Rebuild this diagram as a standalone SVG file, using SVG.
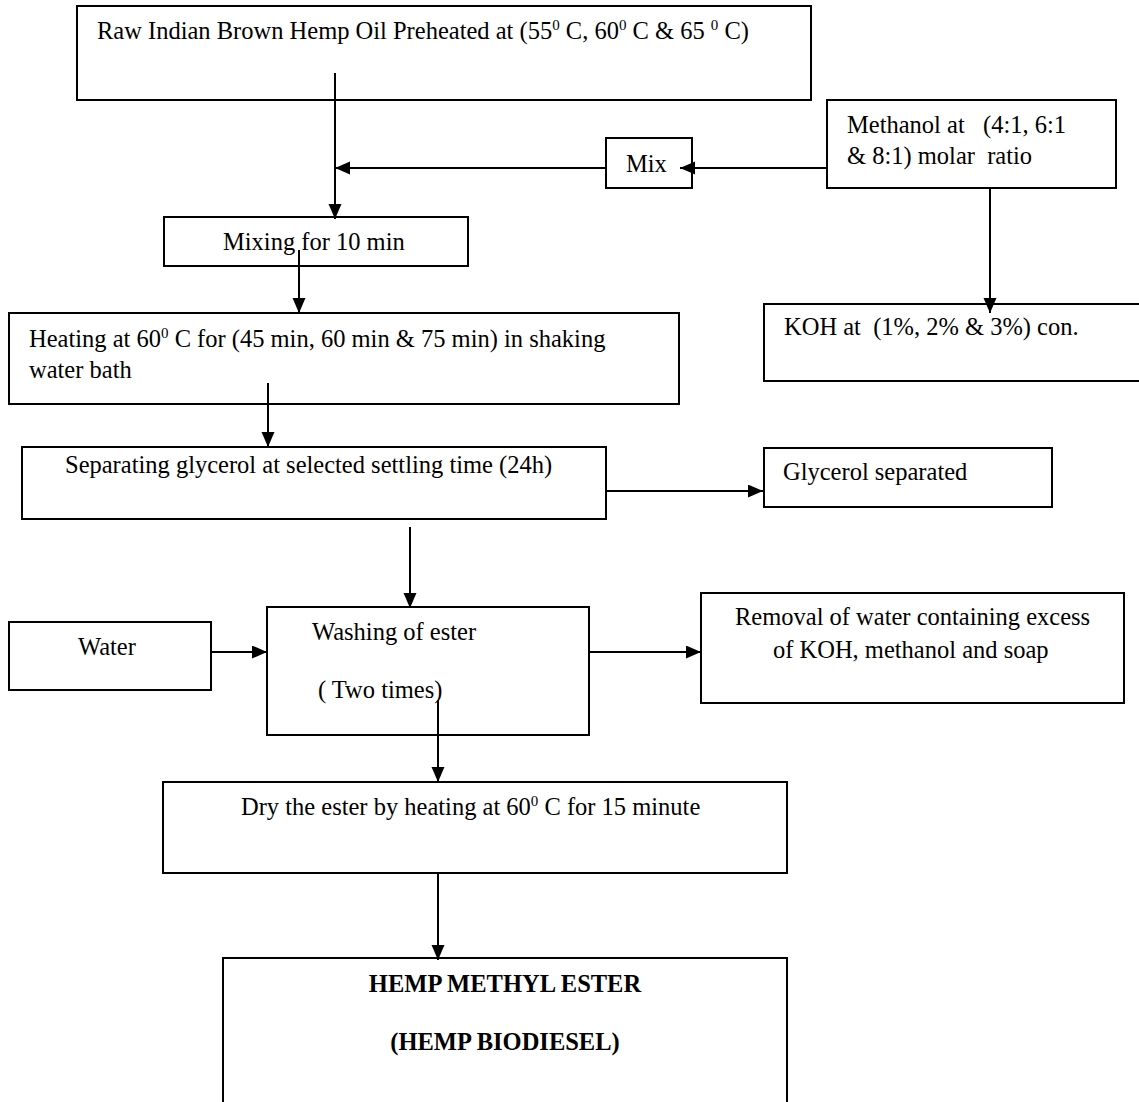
<svg xmlns="http://www.w3.org/2000/svg" width="1139" height="1102" viewBox="0 0 1139 1102">
<style>
.box{fill:#fff;stroke:#000;stroke-width:2}
.t{font-family:"Liberation Serif","Times New Roman",serif;font-size:24.5px;fill:#000}
.b{font-weight:bold}
.c{fill:none;stroke:#000;stroke-width:2}
</style>
<defs>
<marker id="ah" markerUnits="userSpaceOnUse" markerWidth="16" markerHeight="14" refX="15" refY="6.5" orient="auto">
<path d="M0,0 L15,6.5 L0,13 z" fill="#000"/>
</marker>
</defs>
<rect width="1139" height="1102" fill="#fff"/>
<g id="n-raw">
<rect class="box" x="77" y="6" width="734" height="94"/>
<text class="t" x="97" y="39">Raw Indian Brown Hemp Oil Preheated at (55<tspan dy="-9" font-size="15">0</tspan><tspan dy="9"> C, 60</tspan><tspan dy="-9" font-size="15">0</tspan><tspan dy="9"> C &amp; 65 </tspan><tspan dy="-9" font-size="15">0</tspan><tspan dy="9"> C)</tspan></text>
</g>
<g id="n-methanol">
<rect class="box" x="827" y="100" width="289" height="88"/>
<text class="t" x="847" y="133" xml:space="preserve">Methanol at   (4:1, 6:1</text>
<text class="t" x="847" y="164" xml:space="preserve">&amp; 8:1) molar  ratio</text>
</g>
<g id="n-mix">
<rect class="box" x="606" y="138" width="86" height="50"/>
<text class="t" x="626" y="172">Mix</text>
</g>
<g id="n-mixing">
<rect class="box" x="164" y="217" width="304" height="49"/>
<text class="t" x="223" y="250">Mixing for 10 min</text>
</g>
<g id="n-koh">
<rect class="box" x="764" y="304" width="380" height="77"/>
<text class="t" x="784" y="335" xml:space="preserve">KOH at  (1%, 2% &amp; 3%) con.</text>
</g>
<g id="n-heating">
<rect class="box" x="9" y="313" width="670" height="91"/>
<text class="t" x="29" y="347">Heating at 60<tspan dy="-9" font-size="15">0</tspan><tspan dy="9"> C for (45 min, 60 min &amp; 75 min) in shaking</tspan></text>
<text class="t" x="29" y="378">water bath</text>
</g>
<g id="n-separating">
<rect class="box" x="22" y="447" width="584" height="72"/>
<text class="t" x="65" y="473">Separating glycerol at selected settling time (24h)</text>
</g>
<g id="n-glycerol">
<rect class="box" x="764" y="448" width="288" height="59"/>
<text class="t" x="783" y="480">Glycerol separated</text>
</g>
<g id="n-water">
<rect class="box" x="9" y="622" width="202" height="68"/>
<text class="t" x="78" y="655">Water</text>
</g>
<g id="n-washing">
<rect class="box" x="267" y="607" width="322" height="128"/>
<text class="t" x="312" y="640">Washing of ester</text>
<text class="t" x="318" y="698">( Two times)</text>
</g>
<g id="n-removal">
<rect class="box" x="701" y="593" width="423" height="110"/>
<text class="t" x="735" y="625">Removal of water containing excess</text>
<text class="t" x="773" y="658">of KOH, methanol and soap</text>
</g>
<g id="n-dry">
<rect class="box" x="163" y="782" width="624" height="91"/>
<text class="t" x="241" y="815">Dry the ester by heating at 60<tspan dy="-9" font-size="15">0</tspan><tspan dy="9"> C for 15 minute</tspan></text>
</g>
<g id="n-hemp">
<rect class="box" x="223" y="958" width="564" height="160"/>
<text class="t b" x="505" y="992" text-anchor="middle">HEMP METHYL ESTER</text>
<text class="t b" x="505" y="1050" text-anchor="middle">(HEMP BIODIESEL)</text>
</g>
<g id="connectors">
<line class="c" x1="335" y1="73" x2="335" y2="219" marker-end="url(#ah)"/>
<line class="c" x1="827" y1="168" x2="680" y2="168" marker-end="url(#ah)"/>
<line class="c" x1="606" y1="168" x2="335" y2="168" marker-end="url(#ah)"/>
<line class="c" x1="990" y1="188" x2="990" y2="313" marker-end="url(#ah)"/>
<line class="c" x1="299" y1="250" x2="299" y2="313" marker-end="url(#ah)"/>
<line class="c" x1="268" y1="383" x2="268" y2="447" marker-end="url(#ah)"/>
<line class="c" x1="606" y1="491" x2="763" y2="491" marker-end="url(#ah)"/>
<line class="c" x1="410" y1="527" x2="410" y2="608" marker-end="url(#ah)"/>
<line class="c" x1="211" y1="652" x2="267" y2="652" marker-end="url(#ah)"/>
<line class="c" x1="590" y1="652" x2="701" y2="652" marker-end="url(#ah)"/>
<line class="c" x1="438" y1="700" x2="438" y2="782" marker-end="url(#ah)"/>
<line class="c" x1="438" y1="872" x2="438" y2="960" marker-end="url(#ah)"/>
</g>
</svg>
